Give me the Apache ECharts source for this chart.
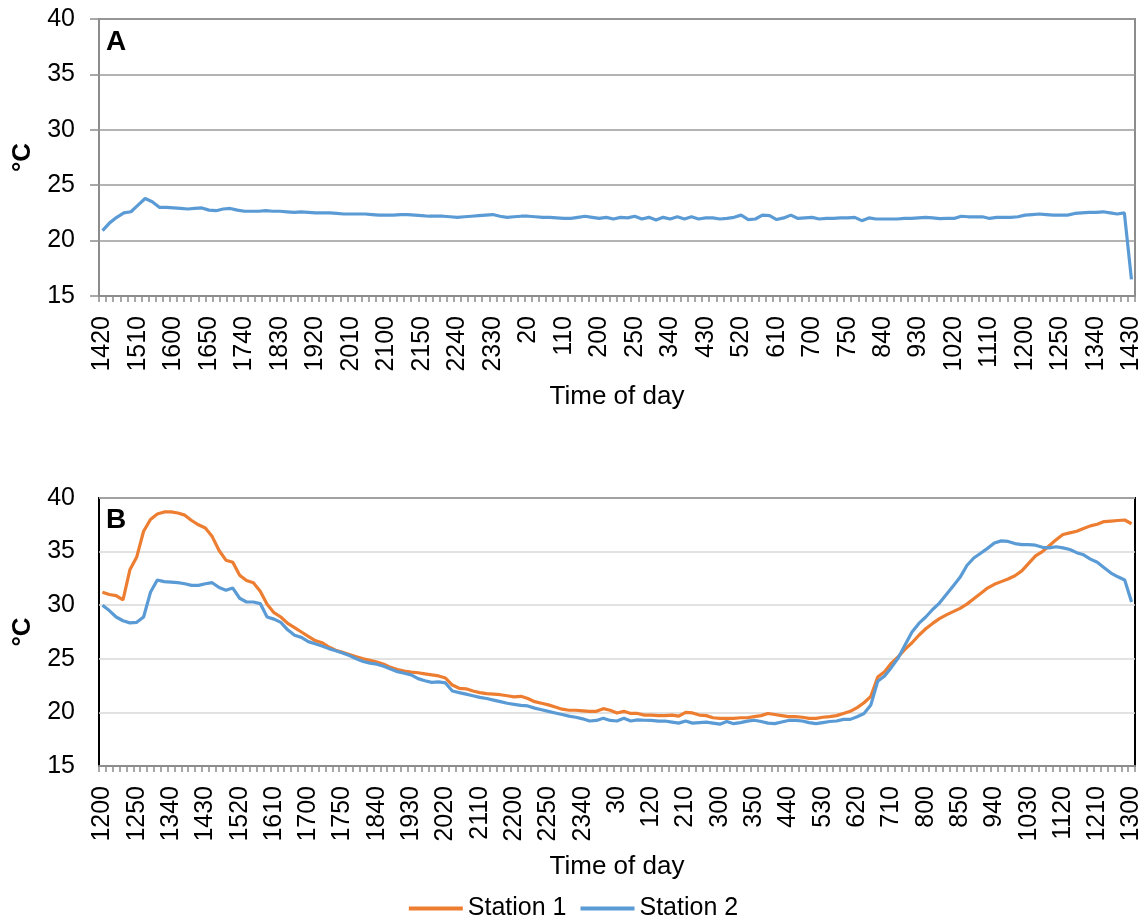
<!DOCTYPE html>
<html>
<head>
<meta charset="utf-8">
<title>Temperature by time of day</title>
<script src="https://cdn.jsdelivr.net/npm/echarts@6/dist/echarts.min.js"></script>
<style>
  html, body { margin: 0; padding: 0; background: #fff; }
  #main { width: 1147px; height: 923px; }
</style>
</head>
<body>
<div id="main"></div>
<script>
    // 10-minute samples, labels written as h*100+m (e.g. 1420, 20, 110)
    function makeTimes(h, m, count) {
        var out = [];
        for (var i = 0; i < count; i++) {
            out.push(String(h * 100 + m));
            m += 10;
            if (m >= 60) { m -= 60; h = (h + 1) % 24; }
        }
        return out;
    }

    var timesA = makeTimes(14, 20, 146);   // 1420 .. 1430 next day
    var timesB = makeTimes(12, 0, 151);    // 1200 .. 1300 next day

    var yTicks = [15, 20, 25, 30, 35, 40];

    var tempA = [
        20.9, 21.6, 22.1, 22.5, 22.6, 23.2, 23.8, 23.5, 23.0, 23.0,
        22.95, 22.9, 22.85, 22.9, 22.95, 22.75, 22.7, 22.85, 22.9, 22.75,
        22.65, 22.65, 22.65, 22.7, 22.65, 22.65, 22.6, 22.55, 22.6, 22.55,
        22.5, 22.5, 22.5, 22.45, 22.4, 22.4, 22.4, 22.4, 22.35, 22.3,
        22.3, 22.3, 22.35, 22.35, 22.3, 22.25, 22.2, 22.2, 22.2, 22.15,
        22.1, 22.15, 22.2, 22.25, 22.3, 22.35, 22.2, 22.1, 22.15, 22.2,
        22.2, 22.15, 22.1, 22.1, 22.05, 22.0, 22.0, 22.1, 22.2, 22.1,
        22.0, 22.1, 21.95, 22.1, 22.05, 22.2, 21.95, 22.1, 21.85, 22.1,
        21.95, 22.15, 21.95, 22.15, 21.95, 22.05, 22.05, 21.95, 22.0, 22.1,
        22.3, 21.9, 21.95, 22.3, 22.25, 21.9, 22.05, 22.3, 22.0, 22.05,
        22.1, 21.95, 22.0, 22.0, 22.05, 22.05, 22.1, 21.8, 22.05, 21.95,
        21.95, 21.95, 21.95, 22.0, 22.0, 22.05, 22.1, 22.05, 21.98, 22.0,
        22.0, 22.2, 22.15, 22.15, 22.15, 22.0, 22.1, 22.1, 22.1, 22.15,
        22.3, 22.35, 22.4, 22.35, 22.3, 22.3, 22.3, 22.45, 22.5, 22.55,
        22.55, 22.6, 22.5, 22.4, 22.5, 16.5
    ];

    var station1 = [
        31.2, 31.0, 30.9, 30.5, 33.3, 34.5, 36.9, 38.0, 38.5, 38.7,
        38.7, 38.6, 38.4, 37.9, 37.5, 37.2, 36.4, 35.1, 34.2, 34.0,
        32.8, 32.3, 32.1, 31.3, 30.1, 29.3, 28.9, 28.3, 27.9, 27.5,
        27.1, 26.7, 26.5, 26.1, 25.8, 25.6, 25.4, 25.2, 25.0, 24.85,
        24.7, 24.5, 24.2, 24.0, 23.85, 23.75, 23.7, 23.6, 23.5, 23.4,
        23.2, 22.55, 22.25, 22.2, 22.0, 21.85, 21.75, 21.7, 21.65, 21.55,
        21.45, 21.5, 21.3, 21.0, 20.85, 20.7, 20.5, 20.3, 20.2, 20.2,
        20.15, 20.1, 20.1, 20.35, 20.2, 19.95, 20.1, 19.9, 19.9, 19.75,
        19.75, 19.7, 19.7, 19.75, 19.65, 20.0, 19.95, 19.75, 19.7, 19.5,
        19.45, 19.45, 19.45, 19.5, 19.5, 19.6, 19.7, 19.9, 19.8, 19.7,
        19.6, 19.6, 19.55, 19.45, 19.45, 19.55, 19.6, 19.7, 19.9, 20.1,
        20.45, 20.9, 21.5, 23.3, 23.8, 24.6, 25.2, 25.9, 26.5, 27.2,
        27.8, 28.3, 28.75, 29.1, 29.4, 29.7, 30.1, 30.6, 31.1, 31.6,
        31.95, 32.2, 32.45, 32.75, 33.2, 33.9, 34.6, 35.0, 35.55, 36.1,
        36.6, 36.75, 36.9, 37.15, 37.4, 37.55, 37.8, 37.85, 37.9, 37.95,
        37.6
    ];

    var station2 = [
        30.0, 29.5, 28.9, 28.55, 28.35, 28.4, 28.9, 31.2, 32.35, 32.2,
        32.15, 32.1, 32.0, 31.85, 31.85, 32.0, 32.1, 31.65, 31.4, 31.6,
        30.65, 30.3, 30.3, 30.15, 28.9, 28.7, 28.4, 27.7, 27.2, 27.0,
        26.6, 26.4, 26.2, 25.95, 25.75, 25.55, 25.3, 25.0, 24.75, 24.6,
        24.5, 24.3, 24.05, 23.8, 23.65, 23.5, 23.15, 22.95, 22.8, 22.85,
        22.75, 22.0, 21.85, 21.7, 21.55, 21.4, 21.3, 21.15, 21.0, 20.85,
        20.75, 20.65, 20.6, 20.4, 20.25, 20.1, 19.95, 19.8, 19.65, 19.55,
        19.4, 19.2, 19.25, 19.45, 19.25, 19.2, 19.45, 19.2, 19.3, 19.27,
        19.25, 19.18, 19.2, 19.1, 19.0, 19.2, 19.0, 19.05, 19.1, 19.0,
        18.9, 19.15, 18.95, 19.05, 19.18, 19.27, 19.15, 19.0, 18.95, 19.1,
        19.25, 19.25, 19.2, 19.05, 18.95, 19.05, 19.15, 19.2, 19.35, 19.35,
        19.6, 19.9, 20.7, 22.9, 23.4, 24.2, 25.1, 26.3, 27.5, 28.3,
        28.9, 29.6, 30.2, 31.0, 31.8, 32.6, 33.7, 34.4, 34.85, 35.3,
        35.8, 36.0, 35.95, 35.75, 35.65, 35.65, 35.6, 35.4, 35.35, 35.45,
        35.35, 35.2, 34.9, 34.7, 34.3, 34.0, 33.5, 33.0, 32.65, 32.35,
        30.3
    ];

    var FONT = 'Liberation Sans, Arial, sans-serif';
    var ORANGE = '#ED7D31';
    var BLUE = '#5B9BD5';

    function xAxisFor(idx, times) {
        return {
            type: 'category',
            gridIndex: idx,
            data: times,
            boundaryGap: true,
            name: 'Time of day',
            nameLocation: 'middle',
            nameGap: 88,
            nameTextStyle: { fontFamily: FONT, fontSize: 26, color: '#000' },
            axisLine: { show: true, lineStyle: { color: '#8c8c8c', width: 2 } },
            axisTick: { show: true, interval: 0, length: 6, lineStyle: { color: '#8c8c8c', width: 1.5 } },
            axisLabel: { interval: 4, rotate: 90, margin: 20, fontFamily: FONT, fontSize: 25, color: '#000' },
            splitLine: { show: false }
        };
    }

    function yAxisFor(idx, gridColor, showTick) {
        return {
            type: 'value',
            gridIndex: idx,
            min: yTicks[0],
            max: yTicks[yTicks.length - 1],
            interval: 5,
            name: '°C',
            nameLocation: 'middle',
            nameGap: 62,
            nameTextStyle: { fontFamily: FONT, fontSize: 26, fontWeight: 'bold', color: '#000' },
            axisLine: { show: false },
            axisTick: { show: showTick, length: 9, lineStyle: { color: '#8c8c8c', width: 1.5 } },
            axisLabel: { margin: 24, fontFamily: FONT, fontSize: 25, color: '#000' },
            splitLine: { show: true, lineStyle: { color: gridColor, width: 1.5 } }
        };
    }

    var myChart = echarts.init(document.getElementById('main'));
    var option = {
        animation: false,
        backgroundColor: '#fff',
        title: [
            { text: 'A', left: 106, top: 28, padding: 0,
              textStyle: { fontFamily: FONT, fontSize: 28, fontWeight: 'bold', color: '#000' } },
            { text: 'B', left: 106, top: 506, padding: 0,
              textStyle: { fontFamily: FONT, fontSize: 28, fontWeight: 'bold', color: '#000' } }
        ],
        grid: [
            { left: 99, right: 12, top: 19, height: 277, show: true,
              borderColor: '#8c8c8c', borderWidth: 2, backgroundColor: 'transparent' },
            { left: 99, right: 12, top: 498, height: 268, show: true,
              borderColor: '#000', borderWidth: 2, backgroundColor: 'transparent' }
        ],
        legend: {
            data: ['Station 1', 'Station 2'],
            bottom: 2,
            left: 'center',
            padding: 0,
            icon: 'rect',
            itemWidth: 54,
            itemHeight: 4,
            itemGap: 14,
            textStyle: { fontFamily: FONT, fontSize: 25, color: '#000' }
        },
        xAxis: [xAxisFor(0, timesA), xAxisFor(1, timesB)],
        yAxis: [yAxisFor(0, '#9a9a9a', true), yAxisFor(1, '#d9d9d9', false)],
        series: [
            {
                name: 'Panel A',
                type: 'line',
                xAxisIndex: 0,
                yAxisIndex: 0,
                data: tempA,
                symbol: 'none',
                lineStyle: { color: BLUE, width: 3.2 },
                itemStyle: { color: BLUE }
            },
            {
                name: 'Station 1',
                type: 'line',
                xAxisIndex: 1,
                yAxisIndex: 1,
                data: station1,
                symbol: 'none',
                lineStyle: { color: ORANGE, width: 3.2 },
                itemStyle: { color: ORANGE }
            },
            {
                name: 'Station 2',
                type: 'line',
                xAxisIndex: 1,
                yAxisIndex: 1,
                data: station2,
                symbol: 'none',
                lineStyle: { color: BLUE, width: 3.2 },
                itemStyle: { color: BLUE }
            }
        ]
    };
    myChart.setOption(option);
</script>
</body>
</html>
